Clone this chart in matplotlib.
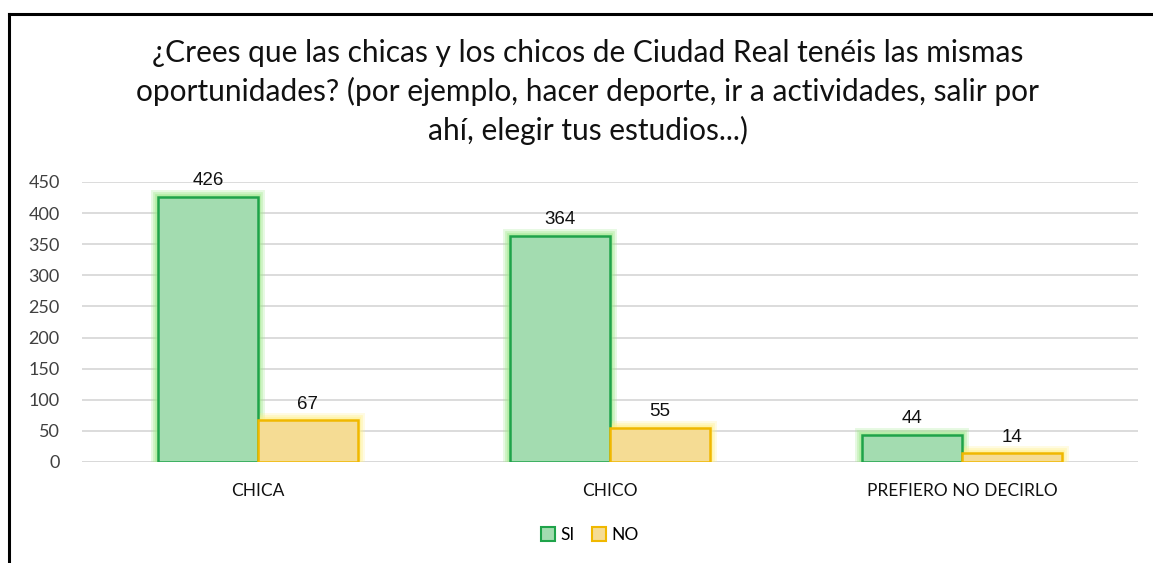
import matplotlib
matplotlib.use("Agg")
import matplotlib.pyplot as plt
import numpy as np
from matplotlib.patches import Patch
from matplotlib.lines import Line2D

categories = ["CHICA", "CHICO", "PREFIERO NO DECIRLO"]
si_values = [426, 364, 44]
no_values = [67, 55, 14]
series_names = ["SI", "NO"]
yticks = [0, 50, 100, 150, 200, 250, 300, 350, 400, 450]
title = ("¿Crees que las chicas y los chicos de Ciudad Real tenéis las mismas\n"
         "oportunidades? (por ejemplo, hacer deporte, ir a actividades, salir por\n"
         "ahí, elegir tus estudios...)")

W, H = 1153, 563
fig = plt.figure(figsize=(W/100, H/100), dpi=100)
ax = fig.add_axes([82/W, 1-462/H, (1138-82)/W, (462-182)/H])

x = np.arange(len(categories))
bw = 0.284
si_fill, si_edge, si_glow = "#a3dcb0", "#1fa34a", "#9ee88a"
no_fill, no_edge, no_glow = "#f5dc94", "#f0b800", "#fff08a"

for xs, vals, fill, edge, glow in [(x - bw/2, si_values, si_fill, si_edge, si_glow),
                                   (x + bw/2, no_values, no_fill, no_edge, no_glow)]:
    # soft glow
    for lw, a in [(10, 0.25), (7, 0.35), (4, 0.5)]:
        ax.bar(xs, vals, bw, color="none", edgecolor=glow, linewidth=lw, zorder=2, alpha=a)
    bars = ax.bar(xs, vals, bw, color=fill, edgecolor=edge, linewidth=1.8, zorder=3)
    for b, v in zip(bars, vals):
        ax.text(b.get_x() + b.get_width()/2, v + 12, str(v), ha="center", va="bottom",
                fontsize=13.5, family="Liberation Sans", color="#111111", zorder=4)

ax.set_xlim(-0.5, len(categories) - 0.5)
ax.set_ylim(0, 450)
ax.set_yticks(yticks)
ax.set_yticklabels([str(t) for t in yticks], fontsize=13, family="Lato", color="#404040")
ax.yaxis.set_tick_params(length=0, pad=16)
ax.set_xticks(x)
ax.set_xticklabels(categories, fontsize=12.5, family="Lato", color="#111111")
ax.xaxis.set_tick_params(length=0, pad=15)
ax.grid(axis="y", color="#d9d9d9", linewidth=1.3, zorder=0)
ax.set_axisbelow(True)
for s in ax.spines.values():
    s.set_visible(False)
ax.axhline(0, color="#d9d9d9", linewidth=1.3, zorder=1)

fig.text(588/W, 1-92/H, title, ha="center", va="center", fontsize=21.5, family="Lato",
         linespacing=1.42, color="#111111")

handles = [Patch(facecolor=si_fill, edgecolor=si_edge, linewidth=1.5),
           Patch(facecolor=no_fill, edgecolor=no_edge, linewidth=1.5)]
fig.legend(handles, series_names, loc="center", bbox_to_anchor=(590/W, 1-535/H), ncol=2,
           frameon=False, prop={"family": "Lato", "size": 12.5},
           handlelength=0.8, handleheight=0.8, handletextpad=0.3, columnspacing=1.0)

# chart border (left and top visible)
fig.add_artist(Line2D([9/W, 9/W], [0, 1-14/H], color="black", linewidth=2.2, transform=fig.transFigure))
fig.add_artist(Line2D([9/W, 1], [1-14/H, 1-14/H], color="black", linewidth=2.2, transform=fig.transFigure))

fig.savefig("out.png", dpi=100, facecolor="white")
